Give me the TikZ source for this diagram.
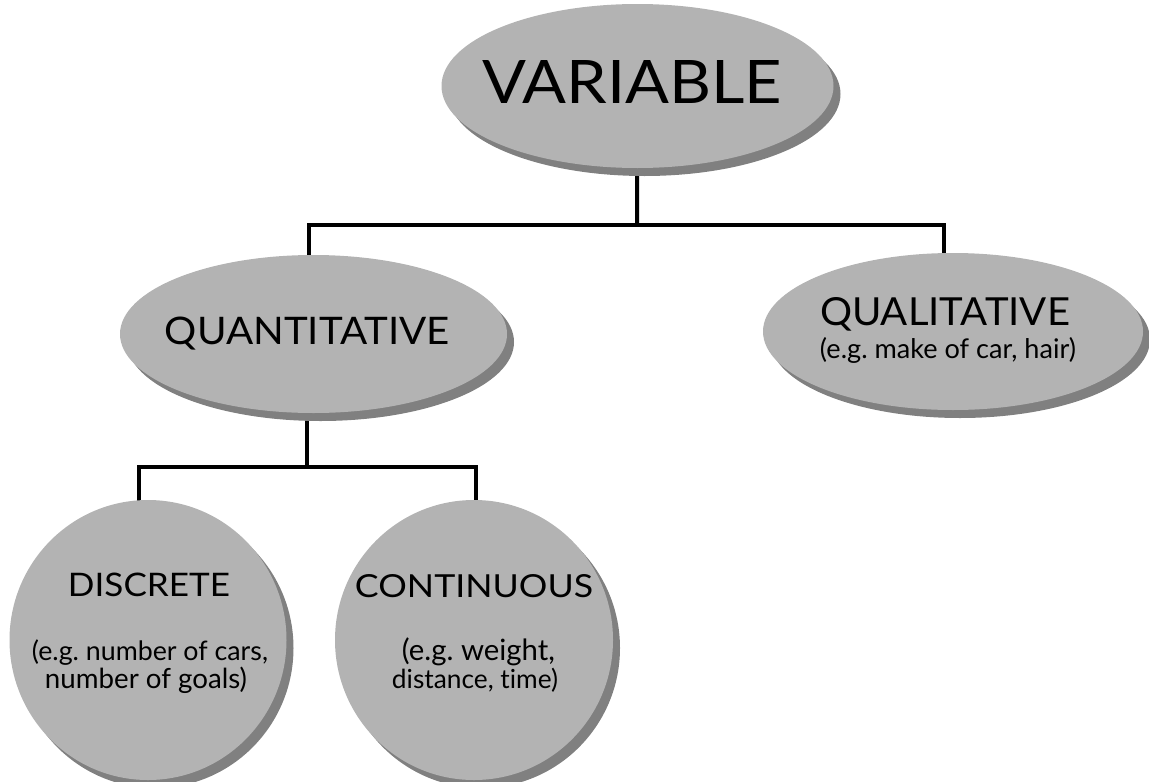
\documentclass[tikz,border=0pt]{standalone}
\usepackage{fontspec}
\setmainfont{Lato}[Ligatures={NoCommon,NoContextual}]
\usepackage{graphicx}
\usetikzlibrary{shapes.geometric,shadows,backgrounds}
\definecolor{bubblefill}{RGB}{179,179,179}
\definecolor{bubbleshadow}{RGB}{128,128,128}
\newcommand{\fitWH}[3]{\resizebox{#1pt}{#2pt}{#3}}
\newcommand{\fitW}[2]{\resizebox{#1pt}{!}{#2}}
\frenchspacing
\begin{document}
\begin{tikzpicture}[x=1pt,y=-1pt,
  bubble/.style={ellipse, draw=none, fill=bubblefill, inner sep=0pt,
    drop shadow={shadow xshift=7pt, shadow yshift=-8pt, fill=bubbleshadow, opacity=1}},
  conn/.style={draw=black, line width=4pt},
  bigtitle/.style={anchor=base, inner sep=0pt, text=black, font=\fontsize{60}{62}\selectfont},
  title/.style={anchor=base, inner sep=0pt, text=black, font=\fontsize{38}{40}\selectfont},
  smalltitle/.style={anchor=base, inner sep=0pt, text=black, font=\fontsize{32}{34}\selectfont},
  sub/.style={anchor=base, inner sep=0pt, text=black, font=\fontsize{23}{25}\selectfont}]
\useasboundingbox (0,0) rectangle (1149,782);

% bubbles
\node[bubble, minimum width=392pt, minimum height=164pt] (var) at (637.5,86) {};
\node[bubble, minimum width=387pt, minimum height=158pt] (quant) at (313.5,334) {};
\node[bubble, minimum width=380pt, minimum height=157pt] (qual) at (953,331.5) {};
\node[bubble, minimum width=277pt, minimum height=280pt] (disc) at (148,640) {};
\node[bubble, minimum width=278pt, minimum height=280pt] (cont) at (474,640) {};

% texts
\node[bigtitle] (varT) at (632,103) {\fitWH{300}{43}{VARIABLE}};
\node[title] (quantT) at (307.5,344) {\fitWH{285}{27.5}{QUANTITATIVE}};
\node[title] (qualT) at (945,325) {\fitWH{250}{28}{QUALITATIVE}};
\node[sub] (qualS) at (948,358) {\fitW{256}{(e.g. make of car, hair)}};
\node[smalltitle] (discT) at (149,596) {\fitWH{162}{23.5}{DISCRETE}};
\node[sub] (discS1) at (150,660) {\fitW{236}{(e.g. number of cars,}};
\node[sub] (discS2) at (146,688) {\fitW{202}{number of goals)}};
\node[smalltitle] (contT) at (474,597) {\fitWH{238}{23}{CONTINUOUS}};
\node[sub] (contS1) at (478.5,660) {\fitW{153}{(e.g. weight,}};
\node[sub] (contS2) at (475,688) {\fitW{166}{distance, time)}};

% connectors
\coordinate (b1) at (637,225);
\coordinate (b2) at (307,467);
\begin{scope}[on background layer]
\draw[conn] (var.center) -- (b1);
\draw[conn] ([xshift=-4.5pt]quant.center) |- (b1) -| ([xshift=-9pt]qual.center);
\draw[conn] ([xshift=-6.5pt]quant.center) -- (b2);
\draw[conn] ([xshift=-9pt]disc.center) |- (b2) -| ([xshift=2pt]cont.center);
\end{scope}
\end{tikzpicture}
\end{document}
